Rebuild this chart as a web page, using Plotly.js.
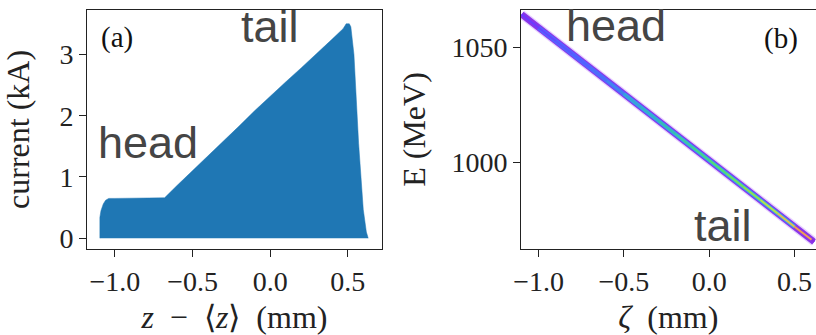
<!DOCTYPE html>
<html>
<head>
<meta charset="utf-8">
<script src="https://cdn.plot.ly/plotly-3.0.1.min.js"></script>
<style>html,body{margin:0;padding:0;background:#fff;}#chart{width:816px;height:335px;}</style>
</head>
<body>
<div id="chart"></div>
<script>
// Panel (a): current profile
const zPos = [-1.097, -1.097, -1.09, -1.075, -1.06, -1.04, -1.0, -0.9, -0.8, -0.7, -0.68, -0.6, -0.5, -0.4, -0.3, -0.2, -0.1, 0.0, 0.1, 0.2, 0.3, 0.4, 0.47, 0.49, 0.51, 0.52, 0.54, 0.57, 0.60, 0.62, 0.632];
const current = [0.0, 0.34, 0.45, 0.56, 0.62, 0.65, 0.65, 0.65, 0.65, 0.65, 0.66, 0.86, 1.10, 1.35, 1.59, 1.83, 2.08, 2.32, 2.55, 2.78, 3.01, 3.25, 3.42, 3.50, 3.50, 3.45, 3.00, 1.55, 0.47, 0.10, 0.0];

// Panel (b): longitudinal phase space (centre line and density colour per interval)
const zeta = [-1.1, -1.0, -0.9, -0.8, -0.7, -0.6, -0.5, -0.4, -0.3, -0.2, -0.1, 0.0, 0.1, 0.2, 0.3, 0.4, 0.5, 0.6, 0.615];
const energy = [1064.4, 1058.6, 1052.8, 1047.1, 1041.3, 1035.5, 1029.8, 1024.0, 1018.3, 1012.5, 1006.7, 1001.0, 995.2, 989.4, 983.7, 977.9, 972.1, 966.4, 965.5];
const coreColors = ['#6a3cff','#6644ff','#5a55ff','#5060ff','#4a70f5','#4088ea','#38a0d8','#34b0c8','#38bcb0','#40c8a0','#48d488','#58dc70','#70e060','#90e050','#b8e048','#e0c050','#f0a050','#8a2be2'];

const xTicksA = [-1.0, -0.5, 0.0, 0.5];
const yTicksA = [0, 1, 2, 3];
const xTicksB = [-1.0, -0.5, 0.0, 0.5];
const yTicksB = [1000, 1050];

const traces = [];
traces.push({
  x: zPos, y: current, type: 'scatter', mode: 'lines',
  fill: 'tozeroy', fillcolor: '#1f77b4',
  line: {color: '#1f77b4', width: 0.5},
  xaxis: 'x', yaxis: 'y', hoverinfo: 'skip', showlegend: false
});
// halo + purple edge + blue + cyan layers
traces.push({x: zeta, y: energy, type: 'scatter', mode: 'lines', line: {color: 'rgba(205,160,255,0.5)', width: 9}, xaxis: 'x2', yaxis: 'y2', showlegend: false, hoverinfo: 'skip'});
traces.push({x: zeta, y: energy, type: 'scatter', mode: 'lines', line: {color: '#8a35e8', width: 6.5}, xaxis: 'x2', yaxis: 'y2', showlegend: false, hoverinfo: 'skip'});
traces.push({x: zeta.slice(1, 17), y: energy.slice(1, 17), type: 'scatter', mode: 'lines', line: {color: '#5068ff', width: 4.5}, xaxis: 'x2', yaxis: 'y2', showlegend: false, hoverinfo: 'skip'});
traces.push({x: zeta.slice(6, 17), y: energy.slice(6, 17), type: 'scatter', mode: 'lines', line: {color: '#30b8d8', width: 3.2}, xaxis: 'x2', yaxis: 'y2', showlegend: false, hoverinfo: 'skip'});
for (let i = 0; i < coreColors.length; i++) {
  traces.push({
    x: [zeta[i], zeta[i+1]], y: [energy[i], energy[i+1]],
    type: 'scatter', mode: 'lines',
    line: {color: coreColors[i], width: 2},
    xaxis: 'x2', yaxis: 'y2', showlegend: false, hoverinfo: 'skip'
  });
}

const tickFont = {family: 'Liberation Serif, Times New Roman, serif', size: 28, color: '#222'};
const titleFont = {family: 'Liberation Serif, Times New Roman, serif', size: 32, color: '#222'};
const axBase = {
  showgrid: false, zeroline: false, showline: true, mirror: true,
  linecolor: '#222', linewidth: 1, ticks: 'outside', ticklen: 7, tickwidth: 1, tickcolor: '#222',
  tickfont: tickFont, automargin: false
};
const yDom = [0.256, 0.971];
const fmt = v => (v < 0 ? '\u2212' : '') + Math.abs(v).toFixed(1);

const layout = {
  width: 816, height: 335,
  margin: {l: 0, r: 0, t: 0, b: 0},
  paper_bgcolor: '#fff', plot_bgcolor: '#fff',
  showlegend: false,
  xaxis: Object.assign({}, axBase, {domain: [0.1066, 0.468], range: [-1.18, 0.72], tickvals: xTicksA, ticktext: xTicksA.map(fmt),
    title: {text: '<i>z</i>\u2002\u2212\u2002\u27E8<i>z</i>\u27E9\u2002(mm)', font: titleFont}}),
  yaxis: Object.assign({}, axBase, {domain: yDom, range: [-0.18, 3.73], tickvals: yTicksA, ticktext: yTicksA.map(String),
    title: {text: 'current (kA)', font: titleFont}}),
  xaxis2: Object.assign({}, axBase, {anchor: 'y2', domain: [0.6385, 0.9995], range: [-1.103, 0.623], tickvals: xTicksB, ticktext: xTicksB.map(fmt),
    title: {text: '<i>\u03B6</i>\u2002(mm)', font: titleFont}}),
  yaxis2: Object.assign({}, axBase, {anchor: 'x2', domain: yDom, range: [962.3, 1066.4], tickvals: yTicksB, ticktext: yTicksB.map(String),
    title: {text: 'E (MeV)', font: titleFont, standoff: 16}}),
  annotations: [
    {xref: 'x', yref: 'y', x: -0.987, y: 3.27, text: '(a)', showarrow: false, font: {family: 'Liberation Serif, serif', size: 29, color: '#111'}},
    {xref: 'x2', yref: 'y2', x: 0.42, y: 1054, text: '(b)', showarrow: false, font: {family: 'Liberation Serif, serif', size: 29, color: '#111'}},
    {xref: 'x', yref: 'y', x: -0.784, y: 1.57, text: 'head', showarrow: false, font: {family: 'Liberation Sans, Arial, sans-serif', size: 45, color: '#454545'}},
    {xref: 'x', yref: 'y', x: 0.0, y: 3.45, text: 'tail', showarrow: false, font: {family: 'Liberation Sans, Arial, sans-serif', size: 45, color: '#454545'}},
    {xref: 'x2', yref: 'y2', x: -0.545, y: 1059.4, text: 'head', showarrow: false, font: {family: 'Liberation Sans, Arial, sans-serif', size: 45, color: '#454545'}},
    {xref: 'x2', yref: 'y2', x: 0.08, y: 972.5, text: 'tail', showarrow: false, font: {family: 'Liberation Sans, Arial, sans-serif', size: 45, color: '#454545'}}
  ]
};

Plotly.newPlot('chart', traces, layout, {staticPlot: true, displayModeBar: false});
</script>
</body>
</html>
